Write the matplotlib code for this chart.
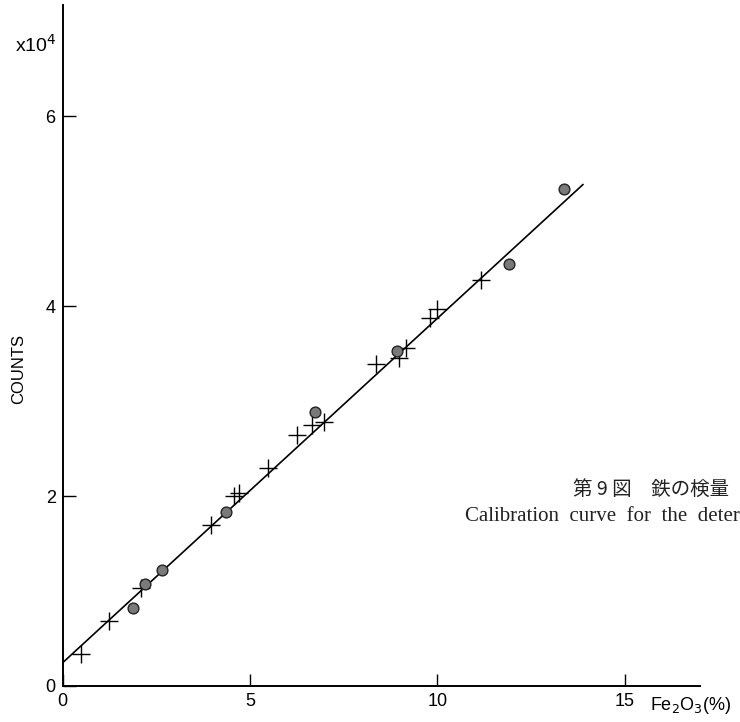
import numpy as np
import matplotlib
matplotlib.use("Agg")
import matplotlib.pyplot as plt

# crosses (+) and filled circles, Fe2O3 % vs counts (x10^4)
cross_x = [0.49, 1.23, 2.08, 3.97, 4.57, 4.70, 5.47, 6.26, 6.64, 6.97, 8.37, 8.97, 9.15, 9.81, 9.99, 11.17]
cross_y = [0.34, 0.68, 1.03, 1.69, 2.00, 2.03, 2.30, 2.64, 2.75, 2.78, 3.39, 3.45, 3.56, 3.87, 3.97, 4.28]
dot_x = [1.87, 2.19, 2.66, 4.35, 6.73, 8.91, 11.91, 13.38]
dot_y = [0.82, 1.07, 1.22, 1.83, 2.88, 3.53, 4.44, 5.23]
fit_x = [0.0, 13.88]
fit_y = [0.245, 5.28]

xticks = [0, 5, 10, 15]
yticks = [0, 2, 4, 6]

fig = plt.figure(figsize=(7.4, 7.22), dpi=100)
ax = fig.add_axes([0.0847, 0.0499, 0.861, 0.943])

ax.plot(fit_x, fit_y, color="black", lw=1.2)
ax.scatter(cross_x, cross_y, marker="+", s=150, color="black", linewidths=1.0, zorder=3)
ax.scatter(dot_x, dot_y, marker="o", s=60, facecolor="#7a7a7a", edgecolor="#222222", linewidths=1.0, zorder=3)

ax.set_xlim(0, 17.0)
ax.set_ylim(0, 7.17)
for s in ["top", "right"]:
    ax.spines[s].set_visible(False)
ax.spines["left"].set_linewidth(1.4)
ax.spines["bottom"].set_linewidth(1.4)

ax.set_xticks(xticks)
ax.set_yticks(yticks)
ax.set_xticklabels([str(t) for t in xticks], fontsize=13, family="Liberation Sans")
ax.set_yticklabels([str(t) for t in yticks], fontsize=13, family="Liberation Sans")
ax.tick_params(direction="in", length=9, width=1.0, pad=5)
ax.set_ylabel("COUNTS", fontsize=12, family="Liberation Sans")
ax.yaxis.set_label_coords(-0.058, 0.465)

fig.text(0.048, 0.938, r"x10$^4$", fontsize=14, family="Liberation Sans", ha="center", va="center")
fig.text(0.878, 0.023, r"Fe$_2$O$_3$(%)", fontsize=13, family="Liberation Sans", ha="left", va="center")

fig.text(0.774, 0.322, "第 9 図　鉄の検量", fontsize=14,
         family=["Noto Sans CJK JP", "DejaVu Sans"], ha="left", va="center", color="#222222")
fig.text(0.628, 0.285, "Calibration  curve  for  the  deter", fontsize=15,
         family="Liberation Serif", ha="left", va="center", color="#222222")

fig.savefig("out.png", dpi=100)
